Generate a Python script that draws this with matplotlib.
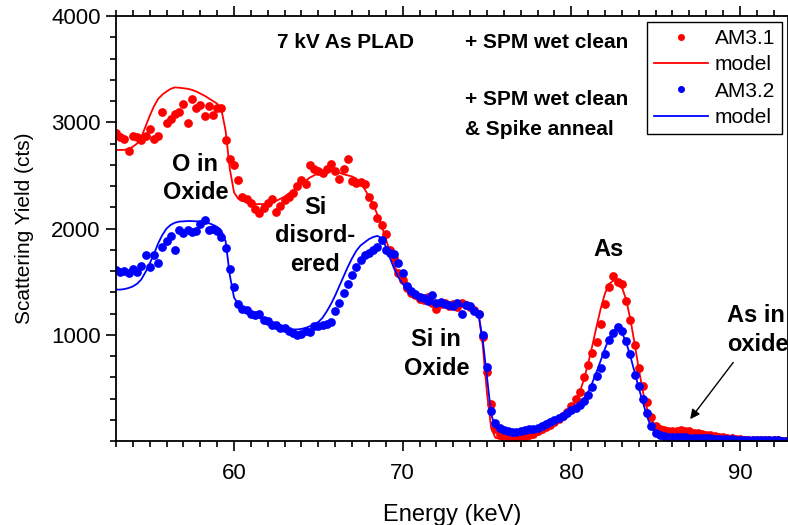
import matplotlib
matplotlib.use("Agg")
import matplotlib.pyplot as plt
from matplotlib.ticker import MultipleLocator
import numpy as np

plt.rcParams['font.family'] = ['Liberation Sans', 'DejaVu Sans']

# energy channels (keV), 0.25 keV steps from 53 to 92.75
energy = np.arange(53.0, 93.0, 0.25)

# AM3.1 data (+ SPM wet clean)
am31 = [
    2900, 2860, 2840, 2730, 2870, 2860, 2830, 2870,
    2940, 2840, 2870, 3100, 2990, 3030, 3080, 3100,
    3170, 2990, 3220, 3130, 3160, 3060, 3150, 3070,
    3130, 3130, 2830, 2650, 2600, 2460, 2300, 2280,
    2240, 2180, 2150, 2190, 2240, 2280, 2160, 2210,
    2270, 2300, 2330, 2400, 2460, 2420, 2600, 2560,
    2540, 2520, 2560, 2610, 2540, 2470, 2560, 2650,
    2450, 2430, 2440, 2420, 2300, 2220, 2100, 2030,
    1950, 1800, 1720, 1580, 1520, 1440, 1390, 1370,
    1340, 1330, 1360, 1300, 1240, 1290, 1300, 1270,
    1290, 1260, 1300, 1280, 1260, 1230, 1200, 980,
    650, 350, 110, 60, 40, 30, 50, 30,
    50, 40, 60, 70, 90, 110, 130, 150,
    180, 210, 240, 270, 330, 400, 460, 600,
    720, 830, 930, 1100, 1290, 1450, 1550, 1500,
    1480, 1320, 1140, 900, 690, 520, 370, 230,
    140, 110, 100, 90, 95, 90, 100, 95,
    90, 80, 75, 70, 60, 55, 45, 40,
    35, 30, 25, 20, 15, 12, 10, 10,
    8, 8, 6, 6, 5, 5, 4, 4,
]

am31_model = [
    2740, 2740, 2740, 2750, 2770, 2800, 2860, 2960,
    3060, 3150, 3220, 3260, 3290, 3315, 3328, 3325,
    3320, 3315, 3305, 3290, 3270, 3250, 3225, 3200,
    3175, 3120, 2920, 2560, 2340, 2280, 2260, 2250,
    2240, 2230, 2230, 2230, 2235, 2245, 2260, 2280,
    2300, 2330, 2360, 2390, 2420, 2450, 2480, 2500,
    2520, 2530, 2540, 2540, 2535, 2525, 2510, 2500,
    2490, 2470, 2430, 2370, 2300, 2230, 2130, 2030,
    1900, 1780, 1660, 1560, 1490, 1440, 1410, 1380,
    1360, 1340, 1330, 1320, 1310, 1300, 1295, 1290,
    1285, 1280, 1275, 1270, 1260, 1250, 1200, 900,
    450, 120, 30, 20, 20, 25, 30, 35,
    40, 45, 50, 60, 75, 90, 110, 130,
    155, 185, 220, 260, 310, 370, 460, 580,
    730, 900, 1080, 1250, 1390, 1480, 1510, 1500,
    1450, 1330, 1150, 920, 680, 460, 300, 200,
    140, 115, 105, 100, 98, 95, 92, 90,
    85, 80, 72, 65, 58, 50, 44, 38,
    32, 27, 22, 18, 14, 11, 9, 7,
    6, 5, 4, 4, 3, 3, 3, 3,
]

# AM3.2 data (+ SPM wet clean & spike anneal)
am32 = [
    1610, 1590, 1600, 1580, 1620, 1590, 1650, 1750,
    1640, 1750, 1680, 1830, 1880, 1930, 1800, 1990,
    1960, 1990, 1970, 1980, 2040, 2080, 1990, 2000,
    1980, 1920, 1820, 1620, 1450, 1290, 1240, 1230,
    1200, 1190, 1200, 1140, 1130, 1090, 1090, 1060,
    1060, 1040, 1020, 1000, 1010, 1040, 1030, 1080,
    1080, 1090, 1100, 1120, 1220, 1300, 1390, 1480,
    1560, 1640, 1700, 1750, 1770, 1800, 1830, 1890,
    1800, 1770, 1760, 1680, 1580, 1460, 1410, 1380,
    1360, 1350, 1320, 1370, 1300, 1310, 1290, 1280,
    1270, 1300, 1200, 1280, 1270, 1220, 1200, 1000,
    700, 280, 170, 120, 100, 90, 85, 85,
    90, 100, 110, 115, 120, 140, 160, 180,
    200, 220, 240, 260, 290, 310, 340, 380,
    430, 510, 610, 690, 820, 950, 1020, 1070,
    1040, 940, 820, 620, 520, 400, 260, 140,
    80, 55, 45, 40, 40, 35, 35, 35,
    30, 30, 30, 25, 25, 25, 20, 20,
    18, 15, 15, 12, 12, 10, 10, 8,
    8, 6, 6, 5, 5, 5, 4, 4,
]

am32_model = [
    1425, 1425, 1430, 1440, 1455, 1480, 1520, 1590,
    1670, 1760, 1860, 1940, 2000, 2035, 2055, 2065,
    2068, 2070, 2070, 2068, 2065, 2060, 2050, 2035,
    2015, 1980, 1880, 1560, 1350, 1290, 1250, 1220,
    1200, 1180, 1160, 1140, 1120, 1100, 1085, 1075,
    1065, 1055, 1050, 1050, 1055, 1065, 1080, 1100,
    1120, 1160, 1220, 1290, 1370, 1460, 1550, 1640,
    1720, 1790, 1840, 1870, 1900, 1920, 1930, 1910,
    1830, 1720, 1620, 1540, 1480, 1430, 1400, 1380,
    1360, 1345, 1330, 1320, 1310, 1300, 1290, 1285,
    1280, 1275, 1270, 1265, 1260, 1240, 1190, 950,
    600, 250, 130, 95, 85, 80, 80, 80,
    85, 90, 100, 110, 120, 135, 150, 165,
    185, 205, 225, 250, 280, 310, 350, 400,
    460, 550, 650, 760, 870, 970, 1040, 1060,
    1020, 930, 800, 650, 500, 360, 230, 120,
    75, 55, 45, 42, 40, 38, 36, 34,
    32, 30, 28, 26, 24, 22, 20, 18,
    16, 14, 12, 10, 9, 8, 7, 6,
    5, 5, 4, 4, 3, 3, 3, 3,
]

fig = plt.figure(figsize=(7.88, 5.25), dpi=100)
ax = fig.add_axes([0.1472, 0.16, 0.8528, 0.8095])

ax.plot(energy, am31, 'o', color='#ff0000', ms=6.3, mew=0, label='AM3.1')
ax.plot(energy, am31_model, '-', color='#ff0000', lw=1.3, label='model')
ax.plot(energy, am32, 'o', color='#0000ff', ms=6.3, mew=0, label='AM3.2')
ax.plot(energy, am32_model, '-', color='#0000ff', lw=1.3, label='model')

ax.set_xlim(53, 92.85)
ax.set_ylim(0, 4000)
ax.xaxis.set_major_locator(MultipleLocator(10))
ax.xaxis.set_minor_locator(MultipleLocator(1))
ax.set_yticks([1000, 2000, 3000, 4000])
ax.yaxis.set_minor_locator(MultipleLocator(200))
ax.tick_params(which='both', direction='out', top=True, right=True,
               width=1.2, labelsize=16)
ax.tick_params(which='major', length=7)
ax.tick_params(which='minor', length=4)
ax.tick_params(axis='x', pad=9)
ax.tick_params(axis='y', pad=4)
for s in ax.spines.values():
    s.set_linewidth(1.3)

ax.set_xlabel('Energy (keV)', fontsize=17, labelpad=14)
ax.set_ylabel('Scattering Yield (cts)', fontsize=15, labelpad=12)

top = dict(fontsize=15, fontweight='bold')
lab = dict(fontsize=17, fontweight='bold', linespacing=1.3)
ax.text(66.6, 3750, '7 kV As PLAD', ha='center', va='center', **top)
ax.text(73.7, 3750, '+ SPM wet clean', ha='left', va='center', **top)
ax.text(73.7, 3210, '+ SPM wet clean', ha='left', va='center', **top)
ax.text(73.7, 2930, '& Spike anneal', ha='left', va='center', **top)
ax.text(57.7, 2470, 'O in\nOxide', ha='center', va='center', **lab)
ax.text(64.8, 1930, 'Si\ndisord-\nered', ha='center', va='center', **lab)
ax.text(72.0, 820, 'Si in\nOxide', ha='center', va='center', **lab)
ax.text(82.2, 1800, 'As', ha='center', va='center', **lab)
ax.text(89.25, 1045, 'As in\noxide?', ha='left', va='center', **lab)
ax.annotate('', xy=(86.95, 185), xytext=(89.7, 760),
            arrowprops=dict(arrowstyle='-|>', color='black', lw=1, mutation_scale=14))

leg = ax.legend(loc='upper right', fontsize=15, frameon=True, fancybox=False,
                edgecolor='black', framealpha=1, handlelength=2.6,
                borderpad=0.35, labelspacing=0.35, handletextpad=0.3,
                borderaxespad=0.27, markerscale=0.8)
leg.get_frame().set_linewidth(1.0)

fig.savefig('out.png', dpi=100)
